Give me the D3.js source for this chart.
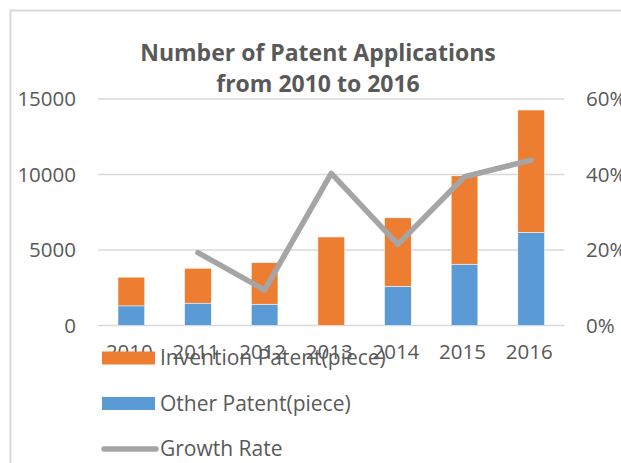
<!DOCTYPE html>
<html>
  <head>
    <meta charset="utf-8">
    <title>Number of Patent Applications from 2010 to 2016</title>
    <script src="https://cdn.jsdelivr.net/npm/d3@7"></script>
    <style>
      body { margin: 0; background: #fff; }
      text { font-family: "Open Sans", sans-serif; fill: #595959; }
    </style>
  </head>
  <body>
    <div id="chart"></div>
    <script>
      // data
      var years = ["2010", "2011", "2012", "2013", "2014", "2015", "2016"];
      var inventionPatent = [1900, 2310, 2750, 5860, 4530, 5850, 8100];
      var otherPatent = [1300, 1480, 1410, 0, 2600, 4060, 6170];
      var growthRate = [null, 0.193, 0.094, 0.403, 0.215, 0.394, 0.438];
      var leftTicks = [0, 5000, 10000, 15000];
      var rightTicks = [0, 0.2, 0.4, 0.6];
      var titleLines = ["Number of Patent Applications", "from 2010 to 2016"];

      var width = 621, height = 463;
      var orange = "#ed7d31", blue = "#5b9bd5", grey = "#a5a5a5", gridColour = "#d9d9d9";

      var svg = d3.select("#chart")
        .append("svg")
        .attr("width", width)
        .attr("height", height);

      // chart area border (right and bottom are cut off)
      svg.append("path")
        .attr("d", "M10.5," + height + "V10.5H" + width)
        .attr("fill", "none")
        .attr("stroke", gridColour)
        .attr("stroke-width", 2);

      // scales
      var x = d3.scaleBand()
        .domain(years)
        .range([98, 564.5])
        .paddingInner(0.6)
        .paddingOuter(0.3);
      var y = d3.scaleLinear()
        .domain([0, 15000])
        .range([325.5, 99]);
      var y2 = d3.scaleLinear()
        .domain([0, 0.6])
        .range([325.5, 99]);

      // gridlines
      svg.append("g")
        .selectAll("line")
          .data(leftTicks)
        .enter().append("line")
          .attr("x1", 98)
          .attr("x2", 564.5)
          .attr("y1", function(d) { return y(d); })
          .attr("y2", function(d) { return y(d); })
          .attr("stroke", gridColour)
          .attr("stroke-width", 1.5);

      // left axis
      svg.append("g")
        .attr("transform", "translate(76,0)")
        .call(d3.axisLeft(y).tickValues(leftTicks).tickFormat(d3.format("d")).tickSize(0).tickPadding(0));
      // right axis
      svg.append("g")
        .attr("transform", "translate(586,0)")
        .call(d3.axisRight(y2).tickValues(rightTicks).tickFormat(d3.format(".0%")).tickSize(0).tickPadding(0));
      // bottom axis
      svg.append("g")
        .attr("transform", "translate(-2,344)")
        .call(d3.axisBottom(x).tickSize(0).tickPadding(0));
      svg.selectAll(".domain").remove();
      svg.selectAll(".tick text")
        .style("font-family", "'Open Sans', sans-serif")
        .style("font-size", "20.5px")
        .attr("fill", "#595959");

      // stacked bars
      var stacked = d3.stack()
        .keys(["other", "invention"])(years.map(function(d, i) {
          return { year: d, other: otherPatent[i], invention: inventionPatent[i] };
        }));
      svg.append("g")
        .selectAll("g")
          .data(stacked)
        .enter().append("g")
          .attr("fill", function(d) { return d.key == "other" ? blue : orange; })
        .selectAll("rect")
          .data(function(d) { return d; })
        .enter().append("rect")
          .attr("x", function(d) { return x(d.data.year); })
          .attr("width", x.bandwidth())
          .attr("y", function(d) { return y(d[1]); })
          .attr("height", function(d) { return y(d[0]) - y(d[1]); })
          .attr("stroke", "#fff")
          .attr("stroke-width", 0.5);

      // growth rate line
      var line = d3.line()
        .defined(function(d) { return d != null; })
        .x(function(d, i) { return x(years[i]) + x.bandwidth() / 2; })
        .y(function(d) { return y2(d); });
      svg.append("path")
        .datum(growthRate)
        .attr("d", line)
        .attr("fill", "none")
        .attr("stroke", grey)
        .attr("stroke-width", 5.5)
        .attr("stroke-linejoin", "round")
        .attr("stroke-linecap", "round");

      // title
      svg.append("g")
        .selectAll("text")
          .data(titleLines)
        .enter().append("text")
          .attr("x", 318)
          .attr("y", function(d, i) { return 61 + i * 31; })
          .attr("text-anchor", "middle")
          .style("font-size", "23px")
          .style("font-weight", "bold")
          .text(function(d) { return d; });

      // legend (sits on top of the year labels, as in the original)
      var legendItems = [
        { label: "Invention Patent(piece)", colour: orange, type: "rect" },
        { label: "Other Patent(piece)", colour: blue, type: "rect" },
        { label: "Growth Rate", colour: grey, type: "line" }
      ];
      var legend = svg.append("g")
        .selectAll("g")
          .data(legendItems)
        .enter().append("g")
          .attr("transform", function(d, i) { return "translate(102," + (358 + i * 45.5) + ")"; });
      legend.filter(function(d) { return d.type == "rect"; })
        .append("rect")
          .attr("x", 0)
          .attr("y", -6.5)
          .attr("width", 53)
          .attr("height", 13)
          .attr("fill", function(d) { return d.colour; });
      legend.filter(function(d) { return d.type == "line"; })
        .append("line")
          .attr("x1", 2)
          .attr("x2", 54)
          .attr("stroke", function(d) { return d.colour; })
          .attr("stroke-width", 5.5)
          .attr("stroke-linecap", "round");
      legend.append("text")
        .attr("x", 58)
        .attr("y", 7)
        .style("font-size", "21px")
        .text(function(d) { return d.label; });
    </script>
  </body>
</html>
